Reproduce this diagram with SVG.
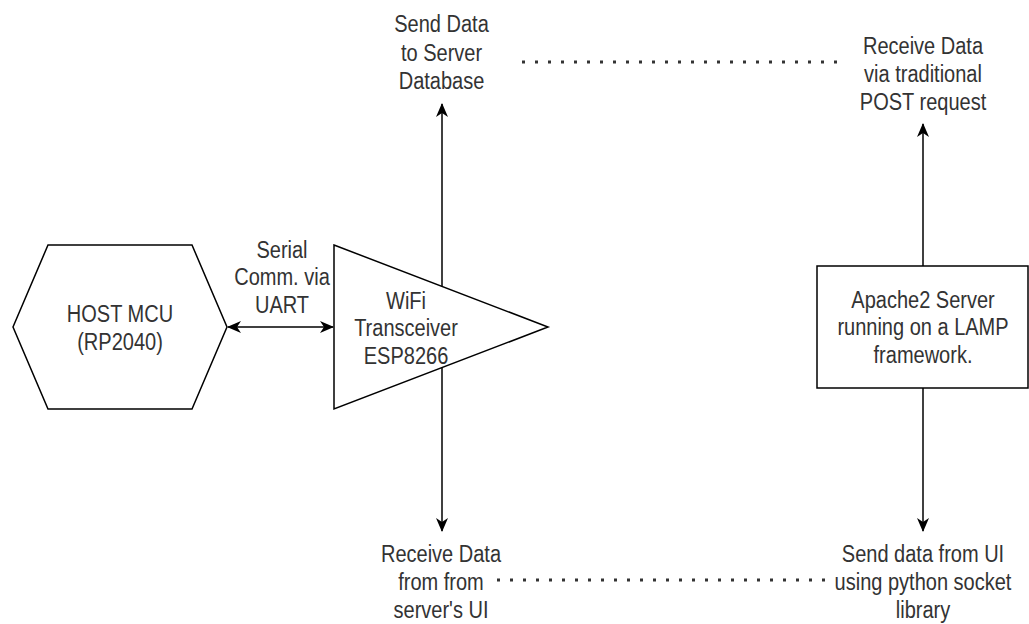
<svg xmlns="http://www.w3.org/2000/svg" width="1029" height="624" viewBox="0 0 1029 624">
<defs>
<style>
.shape{fill:#ffffff;stroke:#000000;stroke-width:1.5}
.edge{fill:none;stroke:#000000;stroke-width:1.5}
.dots{fill:none;stroke:#333333;stroke-width:3;stroke-dasharray:3 10}
.lbl{font-family:"Liberation Sans",Arial,Helvetica,sans-serif;font-size:23px;fill:#333333;text-anchor:middle}
</style>
<marker id="arr" markerUnits="userSpaceOnUse" viewBox="0 0 14 12" refX="13" refY="6" markerWidth="14" markerHeight="12" orient="auto-start-reverse">
<path d="M0,0 L14,6 L0,12 L4,6 Z" fill="#000000"/>
</marker>
</defs>
<rect width="1029" height="624" fill="#ffffff"/>
<g id="connectors">
<line class="edge" x1="442" y1="287" x2="442" y2="104" marker-end="url(#arr)"/>
<line class="edge" x1="442" y1="368" x2="442" y2="531" marker-end="url(#arr)"/>
<line class="edge" x1="923" y1="266" x2="923" y2="124" marker-end="url(#arr)"/>
<line class="edge" x1="923" y1="388" x2="923" y2="531" marker-end="url(#arr)"/>
<line class="edge" x1="228" y1="327" x2="333" y2="327" marker-start="url(#arr)" marker-end="url(#arr)"/>
<line class="dots" x1="522" y1="62" x2="845" y2="62"/>
<line class="dots" x1="497" y1="580" x2="825" y2="580"/>
</g>
<g id="host-mcu">
<polygon class="shape" points="48,245 192,245 227,327 192,409 48,409 13,327"/>
<text class="lbl" transform="translate(120,0) scale(0.87,1)"><tspan x="0" y="322.5">HOST MCU</tspan><tspan x="0" y="350">(RP2040)</tspan></text>
</g>
<g id="serial-label">
<text class="lbl" transform="translate(282,0) scale(0.87,1)"><tspan x="0" y="258">Serial</tspan><tspan x="0" y="285.5">Comm. via</tspan><tspan x="0" y="313">UART</tspan></text>
</g>
<g id="wifi">
<polygon class="shape" points="334,245 548,327 334,409"/>
<text class="lbl" transform="translate(406,0) scale(0.87,1)"><tspan x="0" y="309">WiFi</tspan><tspan x="0" y="336.5">Transceiver</tspan><tspan x="0" y="364">ESP8266</tspan></text>
</g>
<g id="apache">
<rect class="shape" x="817" y="266" width="211" height="122"/>
<text class="lbl" transform="translate(923,0) scale(0.87,1)"><tspan x="0" y="308">Apache2 Server</tspan><tspan x="0" y="335.5">running on a LAMP</tspan><tspan x="0" y="363">framework.</tspan></text>
</g>
<g id="send-data">
<text class="lbl" transform="translate(441.5,0) scale(0.87,1)"><tspan x="0" y="32.5">Send Data</tspan><tspan x="0" y="61">to Server</tspan><tspan x="0" y="89.5">Database</tspan></text>
</g>
<g id="receive-post">
<text class="lbl" transform="translate(923,0) scale(0.87,1)"><tspan x="0" y="54">Receive Data</tspan><tspan x="0" y="82">via traditional</tspan><tspan x="0" y="110">POST request</tspan></text>
</g>
<g id="receive-ui">
<text class="lbl" transform="translate(441,0) scale(0.87,1)"><tspan x="0" y="562">Receive Data</tspan><tspan x="0" y="590">from from</tspan><tspan x="0" y="618">server's UI</tspan></text>
</g>
<g id="send-ui">
<text class="lbl" transform="translate(923,0) scale(0.87,1)"><tspan x="0" y="562">Send data from UI</tspan><tspan x="0" y="590">using python socket</tspan><tspan x="0" y="618">library</tspan></text>
</g>
</svg>
